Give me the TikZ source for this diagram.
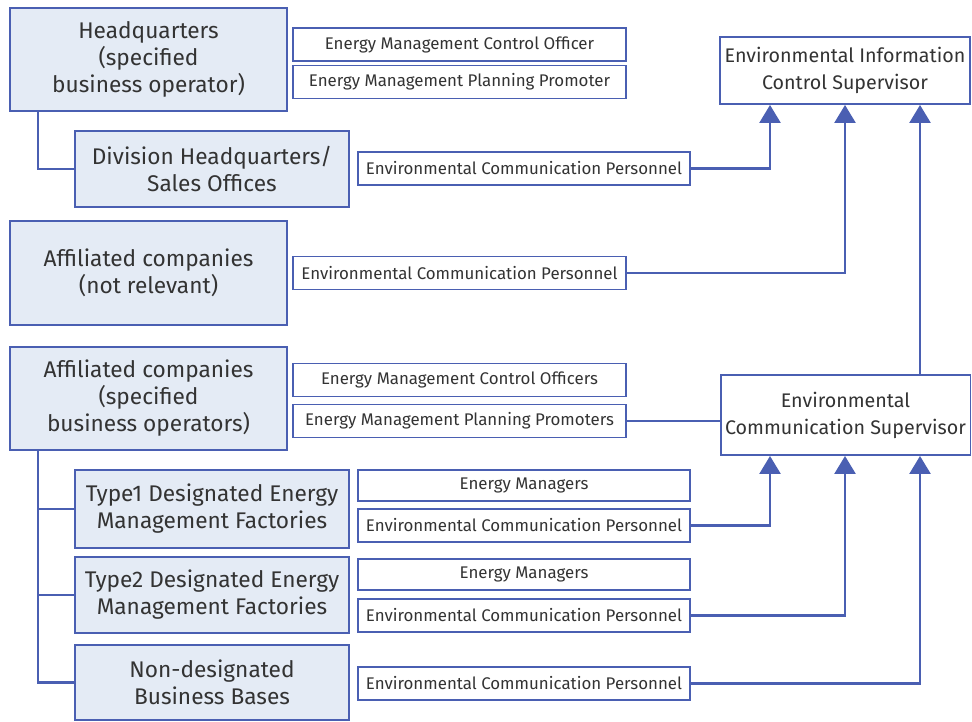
\documentclass[tikz,border=0pt]{standalone}
\usepackage{fontspec}
\setmainfont{Fira Sans}
\usetikzlibrary{arrows.meta}
\usetikzlibrary{positioning}

\definecolor{framblue}{HTML}{4A5FB2}
\definecolor{unitfill}{HTML}{E4EBF5}

\begin{document}
\begin{tikzpicture}[x=0.02cm, y=-0.02cm,
        unit/.style={draw=framblue, fill=unitfill, line width=1.1pt, align=center,
            font=\fontsize{12.9}{15.4}\selectfont, text=black!80, inner sep=0pt},
        role/.style={draw=framblue, fill=white, line width=1.1pt, align=center,
            font=\fontsize{9.6}{11}\selectfont, text=black!80, inner sep=0pt,
            minimum height=0.66cm},
        sup/.style={role, font=\fontsize{11.2}{15.4}\selectfont, minimum width=5cm},
        link/.style={draw=framblue, line width=1.5pt},
        toarr/.style={link, -{Triangle[width=0.42cm, length=0.36cm]}}]
    \useasboundingbox (0,0) rectangle (972,721);

    % organisational units
    \node[unit, minimum width=5.54cm, minimum height=2.06cm] (hq) at (148.5,59.5)
        {Headquarters\\(specified\\business operator)};
    \node[unit, minimum width=5.48cm, minimum height=1.52cm] (div) at (212,169)
        {Division Headquarters/\\Sales Offices};
    \node[unit, minimum width=5.54cm, minimum height=2.08cm] (affn) at (148.5,273)
        {Affiliated companies\\(not relevant)};
    \node[unit, minimum width=5.54cm, minimum height=2.06cm] (affs) at (148.5,398.5)
        {Affiliated companies\\(specified\\business operators)};
    \node[unit, minimum width=5.48cm, minimum height=1.56cm] (typea) at (212,509)
        {Type1 Designated Energy\\Management Factories};
    \node[unit, minimum width=5.48cm, minimum height=1.52cm] (typeb) at (212,595)
        {Type2 Designated Energy\\Management Factories};
    \node[unit, minimum width=5.48cm, minimum height=1.5cm] (nondes) at (212,682.5)
        {Non-designated\\Business Bases};

    % persons in charge
    \node[role, minimum width=6.66cm] (emco) at (459.5,44.5) {Energy Management Control Officer};
    \node[role, minimum width=6.66cm] (empp) at (459.5,82) {Energy Management Planning Promoter};
    \node[role, minimum width=6.64cm] (ecpa) at (524,168.5) {Environmental Communication Personnel};
    \node[role, minimum width=6.66cm] (ecpb) at (459.5,273) {Environmental Communication Personnel};
    \node[role, minimum width=6.66cm] (emcos) at (459.5,380) {Energy Management Control Officers};
    \node[role, minimum width=6.66cm] (empps) at (459.5,421) {Energy Management Planning Promoters};
    \node[role, minimum width=6.64cm, minimum height=0.62cm] (ema) at (524,485.5) {Energy Managers};
    \node[role, minimum width=6.64cm] (ecpc) at (524,525.5) {Environmental Communication Personnel};
    \node[role, minimum width=6.64cm, minimum height=0.62cm] (emb) at (524,574.5) {Energy Managers};
    \node[role, minimum width=6.64cm] (ecpd) at (524,615.5) {Environmental Communication Personnel};
    \node[role, minimum width=6.64cm] (ecpe) at (524,683.5) {Environmental Communication Personnel};

    % supervisors
    \node[sup, minimum height=1.34cm] (eics) at (845,70.5)
        {Environmental Information\\Control Supervisor};
    \node[sup, minimum height=1.6cm] (ecs) at (845.5,415)
        {Environmental\\Communication Supervisor};

    \coordinate (trunk) at (38,0);
    \coordinate (cola) at (770,0);
    \coordinate (colb) at (845,0);
    \coordinate (colc) at (920,0);

    % tree
    \draw[link] (hq.south -| trunk) |- (div.west);
    \draw[link] (affs.south -| trunk) |- (nondes.west);
    \draw[link] (typea.west -| trunk) -- (typea.west);
    \draw[link] (typeb.west -| trunk) -- (typeb.west);

    % reporting lines
    \draw[toarr] (ecpa.east) -| (eics.south -| cola);
    \draw[toarr] (ecpb.east) -| (eics.south -| colb);
    \draw[toarr] (ecs.north -| colc) -- (eics.south -| colc);
    \draw[link] (empps.east) -- (ecs.west |- empps.east);
    \draw[toarr] (ecpc.east) -| (ecs.south -| cola);
    \draw[toarr] (ecpd.east) -| (ecs.south -| colb);
    \draw[toarr] (ecpe.east) -| (ecs.south -| colc);
\end{tikzpicture}
\end{document}
